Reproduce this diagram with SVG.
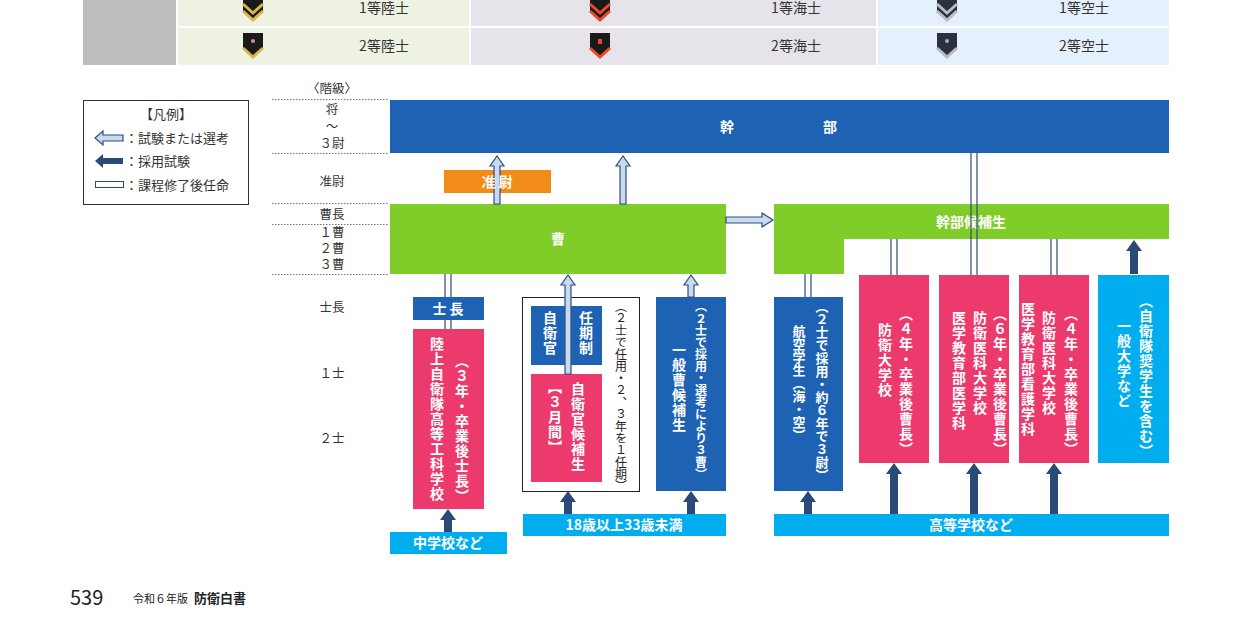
<svg xmlns="http://www.w3.org/2000/svg" width="1241" height="641" viewBox="0 0 1241 641">
<style>
text{font-family:"Noto Sans CJK JP","Noto Sans",sans-serif}
.w{fill:#fff;font-weight:bold}
.v{writing-mode:tb;fill:#fff;font-weight:bold;font-size:14px;letter-spacing:1px}
.lbl{font-size:12.5px;fill:#333;text-anchor:middle}
.dot{stroke:#777;stroke-width:1;stroke-dasharray:1.5 1.5}
.ho{fill:#c9d9f0;stroke:#2d4d7c;stroke-width:1.2}
.dk{fill:#2b4a78}
.dl{stroke:#2d4d7c;stroke-width:1.2;fill:none}
.tt{font-size:14px;fill:#333}
</style>
<defs>
<path id="chev" d="M-10,-12 L10,-12 L10,4 L0,13 L-10,4 Z"/>
</defs>
<g id="table">
<rect x="83" y="0" width="93" height="65" fill="#bdbdbd"/>
<rect x="178" y="0" width="291" height="26" fill="#eef2e2"/>
<rect x="178" y="28" width="291" height="37" fill="#eef2e2"/>
<rect x="471" y="0" width="405" height="26" fill="#e6e4ea"/>
<rect x="471" y="28" width="405" height="37" fill="#e6e4ea"/>
<rect x="878" y="0" width="291" height="26" fill="#e4f0fb"/>
<rect x="878" y="28" width="291" height="37" fill="#e4f0fb"/>
<g transform="translate(253,8)"><use href="#chev" fill="#1a1a1a"/><path d="M-10,-4 L0,5 L10,-4 M-10,3 L0,12 L10,3" stroke="#d9b64a" stroke-width="3" fill="none"/></g>
<g transform="translate(600,8)"><use href="#chev" fill="#1a1a1a"/><path d="M-10,-4 L0,5 L10,-4 M-10,3 L0,12 L10,3" stroke="#e84a2a" stroke-width="3" fill="none"/></g>
<g transform="translate(947,8)"><use href="#chev" fill="#2a3040"/><path d="M-10,-4 L0,5 L10,-4 M-10,3 L0,12 L10,3" stroke="#b8bcc4" stroke-width="3" fill="none"/></g>
<g transform="translate(253,45)"><use href="#chev" fill="#1a1a1a"/><path d="M-10,3 L0,12 L10,3" stroke="#d9b64a" stroke-width="3" fill="none"/><circle cx="0" cy="-4" r="2" fill="#c98"/></g>
<g transform="translate(600,45)"><use href="#chev" fill="#1a1a1a"/><path d="M-10,3 L0,12 L10,3" stroke="#e84a2a" stroke-width="3" fill="none"/><rect x="-2" y="-6" width="4" height="5" fill="#e84a2a"/></g>
<g transform="translate(947,45)"><use href="#chev" fill="#2a3040"/><path d="M-10,3 L0,12 L10,3" stroke="#b8bcc4" stroke-width="3" fill="none"/><circle cx="0" cy="-4" r="2" fill="#aaa"/></g>
<text class="tt" x="384" y="13" text-anchor="middle">1等陸士</text>
<text class="tt" x="384" y="51" text-anchor="middle">2等陸士</text>
<text class="tt" x="796" y="13" text-anchor="middle">1等海士</text>
<text class="tt" x="796" y="51" text-anchor="middle">2等海士</text>
<text class="tt" x="1084" y="13" text-anchor="middle">1等空士</text>
<text class="tt" x="1084" y="51" text-anchor="middle">2等空士</text>
</g>
<g id="legend">
<rect x="83.5" y="100.5" width="165" height="104" fill="#fff" stroke="#333"/>
<text x="166" y="119" font-size="13" text-anchor="middle" fill="#333">【凡例】</text>
<path class="ho" d="M95,138 L103,131 L103,135 L123,135 L123,141 L103,141 L103,145 Z"/>
<text x="125" y="143" font-size="13" fill="#333">：試験または選考</text>
<path class="dk" d="M95,161 L103,154 L103,158 L123,158 L123,164 L103,164 L103,168 Z"/>
<text x="125" y="166" font-size="13" fill="#333">：採用試験</text>
<rect x="95.5" y="181.5" width="28" height="6" fill="#fff" stroke="#2d4d7c"/>
<text x="125" y="190" font-size="13" fill="#333">：課程修了後任命</text>
</g>
<g id="ranks">
<line class="dot" x1="272" y1="99.5" x2="388" y2="99.5"/>
<line class="dot" x1="272" y1="153.5" x2="388" y2="153.5"/>
<line class="dot" x1="272" y1="203.5" x2="388" y2="203.5"/>
<line class="dot" x1="272" y1="224.5" x2="388" y2="224.5"/>
<line class="dot" x1="272" y1="274.5" x2="388" y2="274.5"/>
<text class="lbl" x="332" y="93">〈階級〉</text>
<text class="lbl" x="332" y="114">将</text>
<text class="lbl" x="332" y="131" font-size="9">～</text>
<text class="lbl" x="332" y="148">３尉</text>
<text class="lbl" x="332" y="186">准尉</text>
<text class="lbl" x="332" y="219">曹長</text>
<text class="lbl" x="332" y="237">１曹</text>
<text class="lbl" x="332" y="253">２曹</text>
<text class="lbl" x="332" y="269">３曹</text>
<text class="lbl" x="332" y="312">士長</text>
<text class="lbl" x="332" y="378">１士</text>
<text class="lbl" x="332" y="443">２士</text>
</g>
<g id="kanbu"><rect x="390" y="100" width="779" height="53" fill="#1e62b4"/>
<text class="w" x="727" y="132" font-size="14" text-anchor="middle">幹</text><text class="w" x="830" y="132" font-size="14" text-anchor="middle">部</text></g>
<g id="junni"><rect x="444" y="170" width="107" height="23" fill="#f28c18"/></g>
<g id="sou"><rect x="390" y="204" width="336" height="70" fill="#80cc28"/><text class="w" x="558" y="244" font-size="14" text-anchor="middle">曹</text></g>
<g id="kanbukouho"><path d="M774,204 H1169 V239 H844 V274 H774 Z" fill="#80cc28"/><text class="w" x="971" y="227" font-size="14" text-anchor="middle">幹部候補生</text></g>
<g id="shichou"><rect x="413" y="297" width="71" height="23" fill="#1e62b4"/><text class="w" x="448" y="314" font-size="14" text-anchor="middle">士 長</text></g>
<g id="koukakou"><rect x="413" y="329" width="71" height="180" fill="#ec3a6c"/>
<text class="v" x="462" y="354">（３年・卒業後士長）</text>
<text class="v" x="437" y="337">陸上自衛隊高等工科学校</text></g>
<g id="frame"><rect x="522.5" y="297.5" width="117" height="194" fill="#fff" stroke="#222"/>
<text class="v" x="621" y="300" style="fill:#222;font-weight:normal;font-size:12px;letter-spacing:0">（２士で任用・２、３年を１任期）</text></g>
<g id="ninki"><rect x="531" y="306" width="71" height="59" fill="#1e62b4"/></g>
<g id="jikan"><rect x="531" y="374" width="71" height="108" fill="#ec3a6c"/>
<text class="v" x="578" y="382">自衛官候補生</text><text class="v" x="555" y="380">【３月間】</text></g>
<g id="ippansou"><rect x="656" y="297" width="70" height="194" fill="#1e62b4"/>
<text class="v" x="701" y="300" style="font-size:12px;letter-spacing:0">（２士で採用・選考により３曹）</text>
<text class="v" x="679" y="343">一般曹候補生</text></g>
<g id="koukuu"><rect x="774" y="297" width="69" height="194" fill="#1e62b4"/>
<text class="v" x="822" y="300" style="font-size:13px;letter-spacing:0">（２士で採用・約６年で３尉）</text>
<text class="v" x="799" y="325" style="font-size:13px;letter-spacing:0">航空学生（海・空）</text></g>
<g id="boudai"><rect x="859" y="275" width="70" height="188" fill="#ec3a6c"/>
<text class="v" x="906" y="307">（４年・卒業後曹長）</text><text class="v" x="885" y="323">防衛大学校</text></g>
<g id="idai"><rect x="939" y="275" width="70" height="188" fill="#ec3a6c"/>
<text class="v" x="1000" y="307">（６年・卒業後曹長）</text><text class="v" x="980" y="311">防衛医科大学校</text><text class="v" x="959" y="311">医学教育部医学科</text></g>
<g id="kango"><rect x="1019" y="275" width="70" height="188" fill="#ec3a6c"/>
<text class="v" x="1071" y="307">（４年・卒業後曹長）</text><text class="v" x="1049" y="311">防衛医科大学校</text><text class="v" x="1028" y="302">医学教育部看護学科</text></g>
<g id="ippandai"><rect x="1098" y="275" width="71" height="188" fill="#00aeef"/>
<text class="v" x="1146" y="294">（自衛隊奨学生を含む）</text><text class="v" x="1124" y="319">一般大学など</text></g>
<g id="chuu"><rect x="390" y="532" width="117" height="22" fill="#00aeef"/><text class="w" x="448" y="548" font-size="14" text-anchor="middle">中学校など</text></g>
<g id="age"><rect x="523" y="514" width="203" height="22" fill="#00aeef"/><text class="w" x="624" y="530" font-size="14" text-anchor="middle">18歳以上33歳未満</text></g>
<g id="koukou"><rect x="774" y="514" width="395" height="22" fill="#00aeef"/><text class="w" x="971" y="530" font-size="14" text-anchor="middle">高等学校など</text></g>
<g id="connectors">
<path class="ho" d="M494,204 L494,166 L490,166 L497,156 L504,166 L500,166 L500,204 Z"/>
<path class="ho" d="M620,204 L620,166 L616,166 L623,156 L630,166 L626,166 L626,204 Z"/>
<path class="ho" d="M726,217 L762,217 L762,213 L773,220 L762,227 L762,223 L726,223 Z"/>
<path class="ho" d="M565,374 L565,285 L561,285 L568,275 L575,285 L571,285 L571,374 Z"/>
<path class="ho" d="M688,297 L688,285 L684,285 L691,275 L698,285 L694,285 L694,297 Z"/>
<path class="dl" d="M445,274 V297 M451,274 V297 M445,320 V329 M451,320 V329"/>
<path class="dl" d="M805,274 V297 M811,274 V297"/>
<path class="dl" d="M891,239 V275 M897,239 V275"/>
<path class="dl" d="M971,153 V275 M977,153 V275"/>
<path class="dl" d="M1051,239 V275 M1057,239 V275"/>
<path class="dk" d="M1130,274 L1130,251 L1126,251 L1134,240 L1142,251 L1138,251 L1138,274 Z"/>
<path class="dk" d="M444,532 L444,520 L440,520 L448,509 L456,520 L452,520 L452,532 Z"/>
<path class="dk" d="M564,514 L564,502 L560,502 L568,491 L576,502 L572,502 L572,514 Z"/>
<path class="dk" d="M687,514 L687,502 L683,502 L691,491 L699,502 L695,502 L695,514 Z"/>
<path class="dk" d="M804,514 L804,502 L800,502 L808,491 L816,502 L812,502 L812,514 Z"/>
<path class="dk" d="M890,514 L890,474 L886,474 L894,463 L902,474 L898,474 L898,514 Z"/>
<path class="dk" d="M970,514 L970,474 L966,474 L974,463 L982,474 L978,474 L978,514 Z"/>
<path class="dk" d="M1050,514 L1050,474 L1046,474 L1054,463 L1062,474 L1058,474 L1058,514 Z"/>
</g>
<g id="labels-over">
<text class="w" x="497" y="187" font-size="14" text-anchor="middle">准 尉</text>
<text class="v" x="586" y="311">任期制</text><text class="v" x="550" y="311">自衛官</text>
</g>
<g id="footer">
<text x="70" y="605" font-size="20" fill="#222" font-family="Liberation Sans,sans-serif">539</text>
<text x="133" y="603" font-size="11" fill="#222">令和６年版</text>
<text x="194" y="603" font-size="13" font-weight="bold" fill="#222">防衛白書</text>
</g>
</svg>
